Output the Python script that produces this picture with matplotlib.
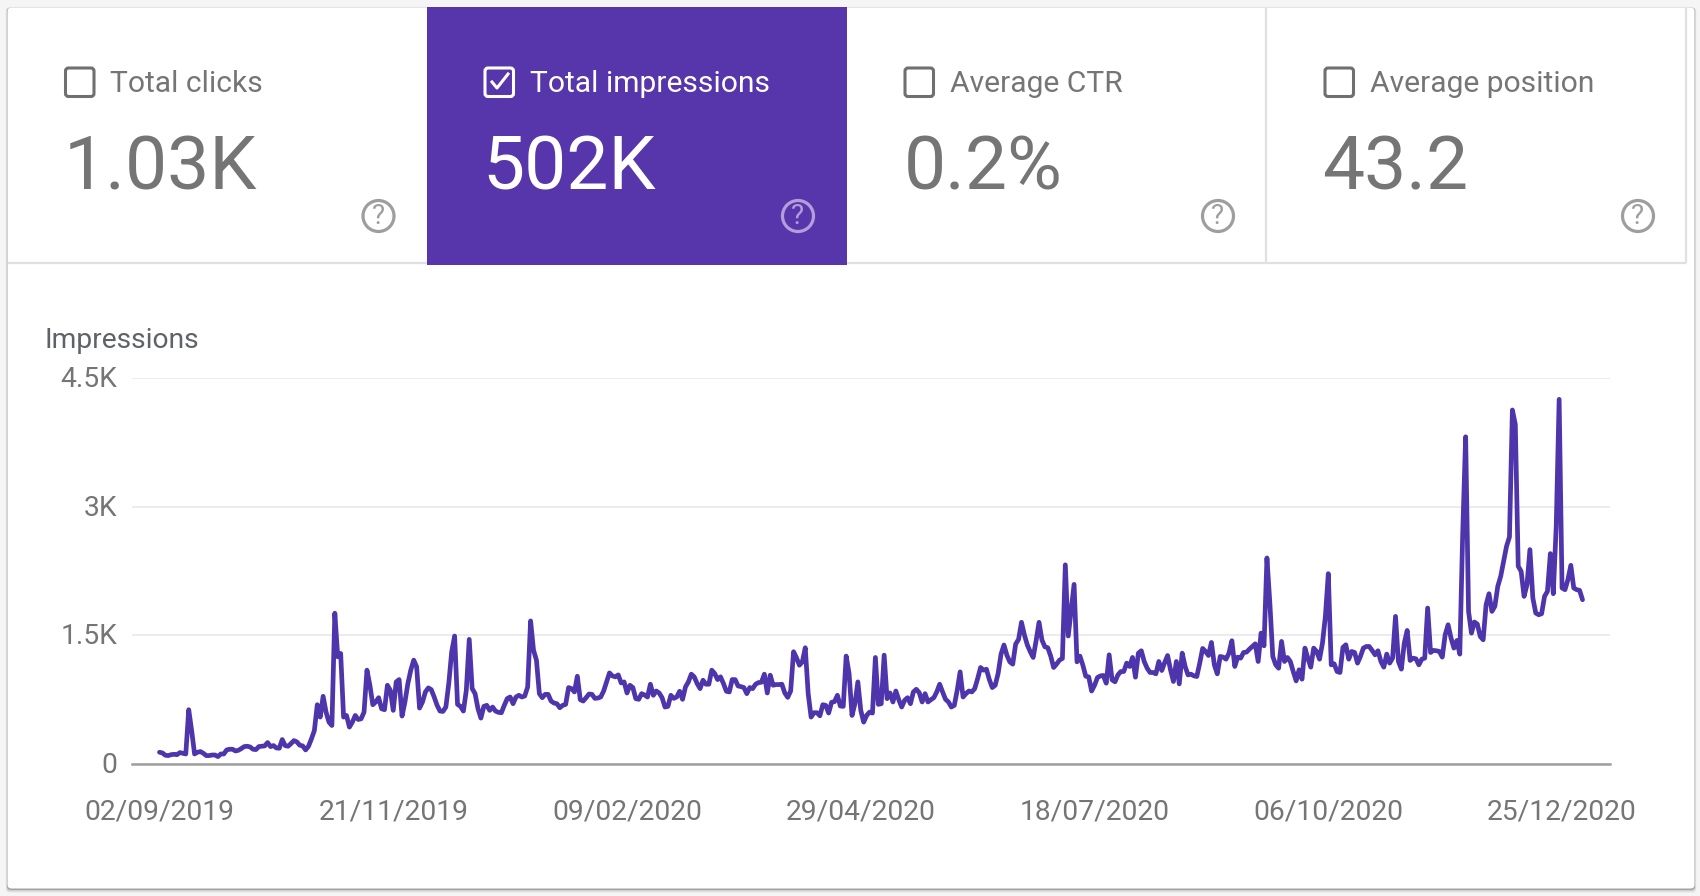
#!/usr/bin/python3

import numpy as np
import pandas as pd
import matplotlib.pyplot as plt
import matplotlib.dates as mdates
from matplotlib.patches import Rectangle, FancyBboxPatch, Circle
from matplotlib.transforms import ScaledTranslation

plt.rcParams['font.family'] = ['Roboto', 'DejaVu Sans']

tab_titles = ['Total clicks', 'Total impressions', 'Average CTR', 'Average position']
tab_values = ['1.03K', '502K', '0.2%', '43.2']
selected_tab = 1

axis_title = 'Impressions'
start_date = '2019-09-02'
date_ticks = ['2019-09-02', '2019-11-21', '2020-02-09', '2020-04-29', '2020-07-18', '2020-10-06', '2020-12-25']
y_ticks = [0, 1500, 3000, 4500]
y_labels = ['0', '1.5K', '3K', '4.5K']

# daily impressions
impressions = [
	137, 129, 102, 98, 109, 113, 109, 133, 125, 117, 633, 390, 117, 137, 145, 125, 98, 98, 105, 105,
	86, 117, 117, 164, 172, 172, 152, 160, 180, 203, 207, 199, 172, 168, 203, 207, 211, 250, 203, 215,
	187, 184, 285, 215, 207, 238, 273, 258, 219, 211, 164, 207, 293, 390, 691, 547, 789, 605, 488, 449,
	1758, 1250, 1289, 547, 566, 430, 488, 566, 519, 527, 605, 1094, 918, 691, 723, 773, 644, 633, 918, 859,
	625, 957, 984, 559, 723, 938, 1094, 1211, 1133, 652, 723, 840, 887, 867, 781, 684, 617, 613, 664, 938,
	1309, 1492, 695, 672, 617, 859, 1453, 879, 820, 644, 535, 672, 684, 625, 664, 617, 602, 598, 684, 762,
	781, 703, 781, 801, 781, 793, 898, 1668, 1328, 1211, 820, 773, 812, 812, 734, 711, 703, 656, 684, 695,
	891, 879, 840, 1023, 750, 734, 773, 816, 812, 765, 769, 781, 851, 957, 1062, 1027, 1016, 1039, 945, 957,
	828, 918, 891, 762, 754, 820, 805, 781, 930, 801, 851, 828, 773, 664, 672, 801, 765, 781, 848, 754,
	898, 957, 1047, 1016, 938, 879, 977, 930, 930, 1094, 1055, 984, 1016, 938, 848, 840, 984, 984, 910, 902,
	891, 820, 891, 879, 930, 949, 953, 1047, 828, 1035, 918, 926, 926, 930, 828, 777, 851, 1309, 1238, 1152,
	1191, 1355, 820, 547, 598, 598, 562, 691, 684, 594, 719, 727, 801, 676, 672, 1258, 1055, 566, 703, 957,
	625, 488, 566, 605, 594, 1242, 695, 703, 1269, 762, 828, 723, 851, 750, 664, 742, 773, 703, 840, 871,
	832, 723, 820, 723, 750, 773, 840, 930, 840, 754, 723, 664, 684, 859, 1074, 781, 820, 851, 840, 879,
	996, 1125, 1094, 1105, 984, 891, 918, 1055, 1281, 1387, 1269, 1191, 1164, 1398, 1453, 1652, 1504, 1387, 1309, 1242,
	1437, 1652, 1445, 1367, 1355, 1258, 1125, 1164, 1211, 1230, 2322, 1492, 1797, 2094, 1191, 1258, 1152, 1023, 1016, 851,
	918, 1008, 1027, 1032, 942, 1273, 981, 958, 1039, 1078, 1078, 1176, 1137, 1242, 1012, 1292, 1320, 1195, 1117, 1067,
	1067, 1051, 1195, 1090, 1183, 1265, 1098, 962, 1195, 934, 1292, 1137, 1039, 1047, 1028, 1020, 1176, 1347, 1312, 1265,
	1417, 1156, 1051, 1254, 1246, 1222, 1292, 1437, 1137, 1246, 1234, 1300, 1304, 1339, 1370, 1401, 1195, 1526, 1378, 2402,
	1876, 1254, 1156, 1117, 1429, 1195, 1242, 1195, 1078, 969, 1098, 989, 1351, 1234, 1129, 1351, 1312, 1222, 1409, 1721,
	2219, 1156, 1168, 1078, 1067, 1359, 1390, 1222, 1312, 1300, 1176, 1254, 1351, 1370, 1370, 1324, 1273, 1320, 1195, 1129,
	1281, 1176, 1234, 1721, 1195, 1106, 1409, 1557, 1207, 1234, 1226, 1156, 1222, 1234, 1818, 1300, 1324, 1320, 1312, 1246,
	1507, 1623, 1468, 1351, 1440, 1281, 2694, 3815, 1779, 1526, 1655, 1631, 1487, 1448, 1857, 1985, 1779, 1838, 2071, 2188,
	2363, 2538, 2647, 4127, 3959, 2305, 2246, 1954, 2090, 2499, 1935, 1760, 1740, 1752, 1954, 2013, 2453, 1985, 2772, 4251,
	2052, 2032, 2149, 2316, 2052, 2032, 2024, 1915,
]

dates = pd.date_range(start_date, periods=len(impressions))

W, H = 1700, 896
fig = plt.figure(figsize=(W/100, H/100), dpi=100, facecolor='#f5f5f5')

# the card and the tabs, in pixels
ui = fig.add_axes([0, 0, 1, 1])
ui.set_xlim(0, W)
ui.set_ylim(H, 0)
ui.axis('off')

# soft shadow, then the card
for grow, alpha in [(4, 0.03), (3, 0.05), (2, 0.08), (1, 0.2)]:
	ui.add_patch(FancyBboxPatch((7.5-grow/2, 7.5), 1687+grow, 881+grow+0.5, boxstyle='round,pad=0,rounding_size=4',
		fc='black', ec='none', alpha=alpha))
ui.add_patch(FancyBboxPatch((7.5, 7.5), 1687, 881, boxstyle='round,pad=0,rounding_size=4', fc='white', ec='none'))

ui.plot([8, 1686], [263, 263], color='#e0e0e0', lw=1.6, solid_capstyle='butt')
ui.plot([1266, 1266], [8, 263], color='#e0e0e0', lw=1.6, solid_capstyle='butt')
ui.plot([1686, 1686], [8, 263], color='#e0e0e0', lw=1.6, solid_capstyle='butt')
ui.add_patch(Rectangle((427, 7.5), 420.5, 257.5, fc='#5735aa', ec='none', zorder=3))

box_x = [64.5, 484, 904, 1324]
title_x = [110.5, 530, 950.5, 1370]
value_x = [64, 482, 904, 1322]
help_x = [378.5, 798, 1218, 1638]
for i in range(4):
	on = i == selected_tab
	fg = 'white' if on else '#757575'
	ui.add_patch(FancyBboxPatch((box_x[i]+1, 68), 28.5, 28.5, boxstyle='round,pad=0,rounding_size=3',
		fc='none', ec='white' if on else '#707070', lw=2.2, zorder=4))
	if on:
		ui.plot([box_x[i]+8, box_x[i]+13, box_x[i]+24], [82, 88, 74], color='white', lw=2.2, zorder=4)
	ui.text(title_x[i], 92, tab_titles[i], color=fg, fontsize=21.6, ha='left', va='baseline', zorder=4)
	ui.text(value_x[i], 190, tab_values[i], color=fg, fontsize=54, ha='left', va='baseline', zorder=4)
	hc = '#b39ddb' if on else '#9e9e9e'
	ui.add_patch(Circle((help_x[i], 216), 15.5, fc='none', ec=hc, lw=2.3, zorder=4))
	ui.text(help_x[i], 217, '?', color=hc, fontsize=20, ha='center', va='center', zorder=4)

ui.text(45, 340, axis_title, color='#5f6368', fontsize=20.3, ha='left', va='center')

# the chart
left, right, top, bottom = 132, 1610, 378, 764
ax = fig.add_axes([left/W, 1-bottom/H, (right-left)/W, (bottom-top)/H])
ax.patch.set_alpha(0)
ax.plot(dates, impressions, color='#4f35ab', lw=3.4, solid_joinstyle='round', solid_capstyle='round', clip_on=False, zorder=3)

px_day = 2.922
x0 = pd.Timestamp(start_date)
ax.set_xlim(x0 + pd.Timedelta(days=(left-159.5)/px_day), x0 + pd.Timedelta(days=(right-159.5)/px_day))
ax.set_ylim(0, 4500)
ax.set_yticks(y_ticks)
ax.set_yticklabels(y_labels)
ax.set_xticks(pd.to_datetime(date_ticks))
ax.xaxis.set_major_formatter(mdates.DateFormatter('%d/%m/%Y'))

ax.grid(axis='y', color='#ececec', lw=1.4)
ax.grid(axis='x', visible=False)
ax.set_axisbelow(True)
for side in ['top', 'right', 'left']:
	ax.spines[side].set_visible(False)
ax.spines['bottom'].set_color('#9e9e9e')
ax.spines['bottom'].set_linewidth(1.8)
ax.tick_params(axis='both', length=0, labelsize=20.3, labelcolor='#757575')
ax.tick_params(axis='x', pad=25)
ax.tick_params(axis='y', pad=10.5)

# y labels sit a touch above their gridlines
shift = ScaledTranslation(0, 1.5/100, fig.dpi_scale_trans)
for lab in ax.get_yticklabels():
	lab.set_transform(lab.get_transform() + shift)

plt.savefig('out.png', dpi=100, facecolor=fig.get_facecolor())
